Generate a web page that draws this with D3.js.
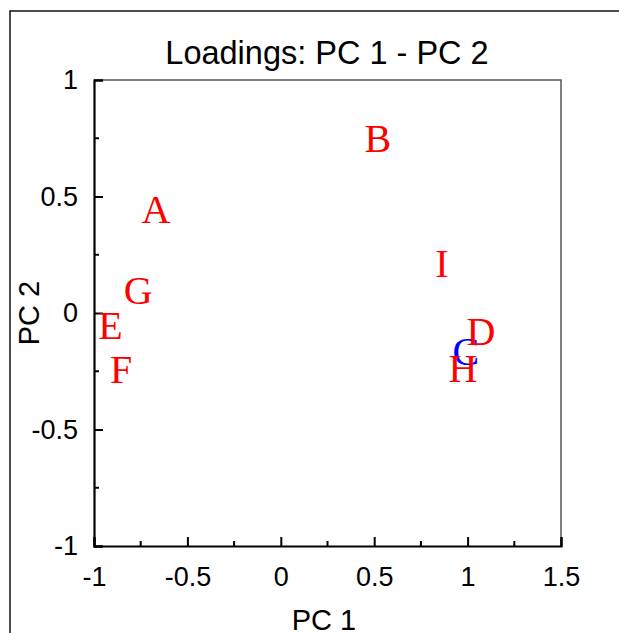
<!DOCTYPE html>
<html>
<head>
<meta charset="utf-8">
<script src="https://cdn.jsdelivr.net/npm/d3@7"></script>
<style>
  body { margin: 0; background: #fff; }
  svg text { font-family: "Liberation Sans", Arial, sans-serif; }
  .lbl { font-family: "Liberation Serif", "Times New Roman", serif !important; }
</style>
</head>
<body>
<div id="chart"></div>
<script>
// loadings, one per variable
const names = ["A", "B", "C", "D", "E", "F", "G", "H", "I"];
const pc1 = [-0.668, 0.520, 0.991, 1.072, -0.912, -0.855, -0.764, 0.975, 0.863];
const pc2 = [0.442, 0.749, -0.165, -0.082, -0.056, -0.245, 0.094, -0.240, 0.210];
const labelColors = ["red", "red", "blue", "red", "red", "red", "red", "red", "red"];

const xTicks = [-1, -0.5, 0, 0.5, 1, 1.5];
const yTicks = [-1, -0.5, 0, 0.5, 1];
const xMinor = [-0.75, -0.25, 0.25, 0.75, 1.25];
const yMinor = [-0.75, -0.25, 0.25, 0.75];

const W = 619, H = 633;
const margin = {top: 80, right: 58, bottom: 87, left: 94};
const width = W - margin.left - margin.right;
const height = H - margin.top - margin.bottom;

// plain hyphen instead of unicode minus
const fmt = d => String(d);

const svg = d3.select("#chart").append("svg")
    .attr("width", W)
    .attr("height", H);

// outer frame (runs off the right and bottom edges)
svg.append("rect")
    .attr("x", 10).attr("y", 11)
    .attr("width", W + 20).attr("height", H + 20)
    .attr("fill", "none")
    .attr("stroke", "#111")
    .attr("stroke-width", 1.5);

const g = svg.append("g")
    .attr("transform", "translate(" + margin.left + "," + margin.top + ")");

const x = d3.scaleLinear().domain([-1, 1.5]).range([0, width]);
const y = d3.scaleLinear().domain([-1, 1]).range([height, 0]);

// top / right box lines
g.append("path")
    .attr("d", "M0,0H" + width + "V" + height)
    .attr("fill", "none")
    .attr("stroke", "#555")
    .attr("stroke-width", 1.5);

// axes with inward ticks
const xAxis = d3.axisBottom(x).tickValues(xTicks).tickSize(-9).tickPadding(21)
    .tickFormat(fmt);
const yAxis = d3.axisLeft(y).tickValues(yTicks).tickSize(-9).tickPadding(16)
    .tickFormat(fmt);

const gx = g.append("g")
    .attr("transform", "translate(0," + height + ")")
    .call(xAxis);
const gy = g.append("g").call(yAxis);

[gx, gy].forEach(a => {
    a.select(".domain").attr("stroke", "#000").attr("stroke-width", 2.2);
    a.selectAll(".tick line").attr("stroke", "#000").attr("stroke-width", 2);
    a.selectAll(".tick text").attr("font-size", 27).attr("fill", "#000")
        .style("font-family", "Liberation Sans, Arial, sans-serif");
});
gx.selectAll(".tick text").attr("dy", "0.71em");

// minor ticks
g.selectAll(".xminor").data(xMinor).enter().append("line")
    .attr("x1", d => x(d)).attr("x2", d => x(d))
    .attr("y1", height).attr("y2", height - 5)
    .attr("stroke", "#000").attr("stroke-width", 2);
g.selectAll(".yminor").data(yMinor).enter().append("line")
    .attr("x1", 0).attr("x2", 5)
    .attr("y1", d => y(d)).attr("y2", d => y(d))
    .attr("stroke", "#000").attr("stroke-width", 2);

// title and axis titles
svg.append("text")
    .attr("x", 327).attr("y", 64)
    .attr("text-anchor", "middle")
    .attr("font-size", 32.5)
    .text("Loadings: PC 1 - PC 2");

svg.append("text")
    .attr("x", 324).attr("y", 630)
    .attr("text-anchor", "middle")
    .attr("font-size", 29)
    .text("PC 1");

svg.append("text")
    .attr("transform", "translate(39," + (margin.top + y(0)) + ") rotate(-90)")
    .attr("text-anchor", "middle")
    .attr("font-size", 29)
    .text("PC 2");

// loading labels
g.selectAll(".lbl").data(names).enter().append("text")
    .attr("class", "lbl")
    .attr("x", (d, i) => x(pc1[i]))
    .attr("y", (d, i) => y(pc2[i]))
    .attr("dy", "0.33em")
    .attr("text-anchor", "middle")
    .attr("font-size", 40)
    .attr("fill", (d, i) => labelColors[i])
    .text(d => d);
</script>
</body>
</html>
